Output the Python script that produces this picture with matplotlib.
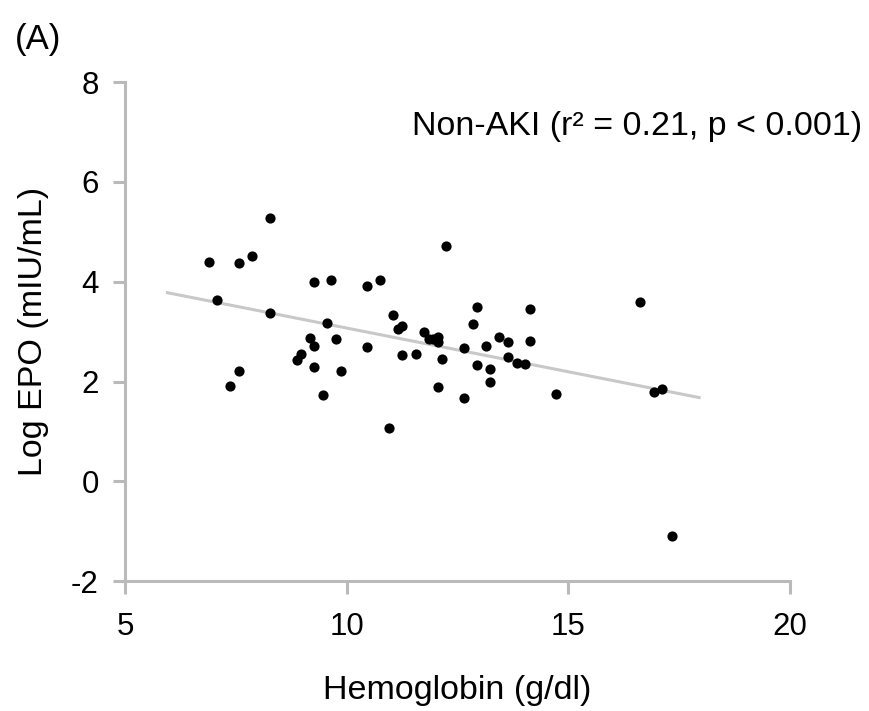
import matplotlib
matplotlib.use("Agg")
import matplotlib.pyplot as plt

plt.rcParams['font.family'] = ['Liberation Sans', 'DejaVu Sans']
plt.rcParams['axes.unicode_minus'] = False

hemoglobin = [8.27, 6.88, 7.57, 7.87, 9.26, 9.65, 10.46, 10.75, 7.07, 8.27,
              9.56, 11.05, 11.25, 11.16, 9.16, 9.26, 9.76, 10.46, 11.25, 11.55,
              8.96, 8.87, 9.26, 9.86, 7.57, 7.37, 9.46, 10.95, 12.24, 12.94,
              14.14, 12.85, 11.75, 11.86, 11.95, 12.05, 12.05, 13.44, 13.64, 14.14,
              13.14, 12.65, 12.15, 13.64, 13.83, 14.03, 12.94, 13.24, 13.24, 12.05,
              12.65, 14.73, 16.62, 16.93, 17.12, 17.33]
log_epo = [5.27, 4.40, 4.38, 4.51, 4.00, 4.04, 3.91, 4.04, 3.63, 3.37,
           3.17, 3.34, 3.12, 3.06, 2.87, 2.72, 2.85, 2.70, 2.54, 2.55,
           2.56, 2.43, 2.30, 2.21, 2.21, 1.91, 1.73, 1.08, 4.71, 3.49,
           3.45, 3.15, 3.00, 2.86, 2.86, 2.90, 2.80, 2.89, 2.80, 2.82,
           2.71, 2.68, 2.45, 2.50, 2.37, 2.35, 2.34, 2.26, 2.00, 1.89,
           1.67, 1.75, 3.60, 1.79, 1.85, -1.10]

fit_x = [5.95, 17.95]
fit_y = [3.78, 1.68]

x_ticks = [5, 10, 15, 20]
y_ticks = [-2, 0, 2, 4, 6, 8]

fig = plt.figure(figsize=(8.7, 7.11), dpi=100)
ax = fig.add_axes([125.3 / 870, 1 - 581.3 / 711, (790 - 125.3) / 870, (581.3 - 82) / 711])

ax.plot(fit_x, fit_y, color='#c8c8c8', lw=2.2, zorder=1)
ax.scatter(hemoglobin, log_epo, s=54, color='black', zorder=2, linewidths=0)

ax.set_xlim(5, 20)
ax.set_ylim(-2, 8)
ax.set_xticks(x_ticks)
ax.set_yticks(y_ticks)
for s in ['top', 'right']:
    ax.spines[s].set_visible(False)
for s in ['left', 'bottom']:
    ax.spines[s].set_color('#bababa')
    ax.spines[s].set_linewidth(2.2)
ax.tick_params(axis='both', direction='out', length=9, width=2.2, color='#bababa',
               labelsize=22.5, labelcolor='black')
ax.tick_params(axis='x', pad=13)
ax.tick_params(axis='y', pad=10)

ax.set_xlabel('Hemoglobin (g/dl)', fontsize=24.5, labelpad=24)
ax.set_ylabel('Log EPO (mIU/mL)', fontsize=24.5, labelpad=16)

ax.text(862, 711 - 135, 'Non-AKI (r² = 0.21, p < 0.001)', transform=None,
        ha='right', va='baseline', fontsize=24.5)
fig.text(15 / 870, 1 - 49 / 711, '(A)', fontsize=25, ha='left', va='baseline')

fig.savefig('out.png', dpi=100)
